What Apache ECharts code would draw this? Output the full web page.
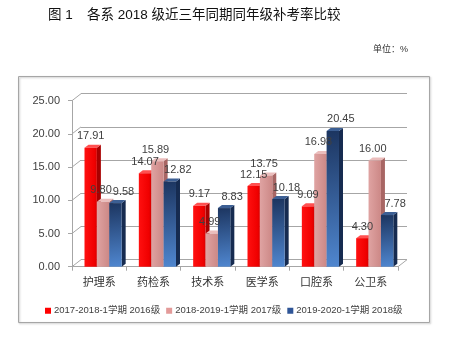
<!DOCTYPE html>
<html><head><meta charset="utf-8">
<script src="https://cdn.jsdelivr.net/npm/echarts@6/dist/echarts.min.js"></script>
<style>html,body{margin:0;padding:0;background:#fff}#c{width:456px;height:341px}</style>
</head><body><div id="c"></div>
<script>
const categories = ['护理系','药检系','技术系','医学系','口腔系','公卫系'];
const s2016 = [17.91,14.07,9.17,12.15,9.09,4.30];
const s2017 = [9.80,15.89,4.99,13.75,16.98,16.00];
const s2018 = [9.58,12.82,8.83,10.18,20.45,7.78];
const seriesNames = ['2017-2018-1学期 2016级','2018-2019-1学期 2017级','2019-2020-1学期 2018级'];
const yTicks = [0,5,10,15,20,25];

const FONT = '"Liberation Sans","Noto Sans CJK SC",sans-serif';
const DX = 9, DY = 7;        // depth of the floor/wall
const BDX = 4, BDY = 3;      // depth of a bar
const styles = [
  {front: {type:'linear',x:0,y:0,x2:1,y2:0,colorStops:[{offset:0,color:'#FF1010'},{offset:0.8,color:'#F00000'},{offset:1,color:'#D80000'}]}, side:'#A80000', top:'#FF5050', legend:'#FF0000'},
  {front: {type:'linear',x:0,y:0,x2:1,y2:0,colorStops:[{offset:0,color:'#DFA3A2'},{offset:1,color:'#CC8886'}]}, side:'#A86664', top:'#EBBDBC', legend:'#E39A99'},
  {front: {type:'linear',x:0,y:0,x2:0.6,y2:1,colorStops:[{offset:0,color:'#1C3560'},{offset:1,color:'#4F86CF'}]}, side:'#162B50', top:'#3C5F94', legend:'#2F5597'}
];

function geom(api, k){
  const idx = api.value(0), v = api.value(1);
  const base = api.coord([idx, 0]);
  const top = api.coord([idx, v]);
  const band = api.size([1, 0])[0];
  const bw = band * 0.228;
  const x0 = base[0] - band * 0.27 + k * bw;
  return {x0:x0, bw:bw, yt:top[1], yb:base[1], v:v};
}

function barRender(k){
  return function(params, api){
    const g = geom(api, k), st = styles[k];
    const x0 = g.x0, bw = g.bw, yt = g.yt, yb = g.yb;
    return {
      type: 'group',
      children: [
        {type:'polygon', shape:{points:[[x0+bw,yt],[x0+bw+BDX,yt-BDY],[x0+bw+BDX,yb-BDY],[x0+bw,yb]]}, style:{fill:st.side}},
        {type:'polygon', shape:{points:[[x0,yt],[x0+BDX,yt-BDY],[x0+bw+BDX,yt-BDY],[x0+bw,yt]]}, style:{fill:st.top}},
        {type:'rect', shape:{x:x0, y:yt, width:bw, height:yb-yt}, style:{fill:st.front}}
      ]
    };
  };
}

function labelRender(k){
  return function(params, api){
    const g = geom(api, k);
    const lblDx = k === 2 ? 8 : (k === 1 ? -2 : 0);
    return {type:'text', style:{x:g.x0+g.bw/2+lblDx, y:g.yt-6, text:g.v.toFixed(2), textAlign:'center', textVerticalAlign:'bottom', fill:'#404040', font:'11px '+FONT}};
  };
}

const chart = echarts.init(document.getElementById('c'), null, {renderer:'canvas'});
const gFront = {left:72, top:100.7, width:326, height:166};
const gBack = {left:72+DX, top:100.7-DY, width:326, height:166};

const dataSets = [s2016, s2017, s2018];
const barSeries = dataSets.map((arr, k) => ({
  type:'custom', name: seriesNames[k], xAxisIndex:0, yAxisIndex:0, z:2,
  itemStyle:{color: styles[k].legend},
  encode:{x:0, y:1},
  data: arr.map((v, i) => [i, v]),
  renderItem: barRender(k)
}));
const labelSeries = dataSets.map((arr, k) => ({
  type:'custom', name: seriesNames[k], xAxisIndex:0, yAxisIndex:0, z:10, silent:true,
  encode:{x:0, y:1},
  data: arr.map((v, i) => [i, v]),
  renderItem: labelRender(k)
}));

chart.setOption({
  animation:false,
  textStyle:{fontFamily:FONT},
  graphic:[
    {type:'rect', shape:{x:18.5, y:76.5, width:411, height:246}, style:{fill:'none', stroke:'#A6A6A6', lineWidth:1, shadowBlur:2, shadowColor:'rgba(0,0,0,0.25)', shadowOffsetX:1, shadowOffsetY:1}, z:-10},
    {type:'text', left:48, top:9, style:{text:'图 1', font:'13.5px '+FONT, fill:'#111'}},
    {type:'text', left:87, top:9, style:{text:'各系 2018 级近三年同期同年级补考率比较', font:'13.5px '+FONT, fill:'#111'}},
    {type:'text', left:373, top:45, style:{text:'单位：%', font:'9px '+FONT, fill:'#333'}}
  ],
  legend:{
    data: seriesNames, left:40, top:301, icon:'rect', itemWidth:6, itemHeight:6, itemGap:6,
    textStyle:{fontSize:9.5, color:'#404040', fontFamily:FONT, padding:[0,0,0,-2]}
  },
  grid:[
    Object.assign({containLabel:false}, gFront),
    Object.assign({containLabel:false}, gBack)
  ],
  xAxis:[
    {type:'category', gridIndex:0, data:categories, boundaryGap:true,
     axisLine:{lineStyle:{color:'#A6A6A6'}}, axisTick:{show:true, length:4, lineStyle:{color:'#A6A6A6'}},
     axisLabel:{color:'#333', fontSize:11, margin:11, fontFamily:FONT}, splitLine:{show:false}},
    {type:'category', gridIndex:1, data:categories, show:false}
  ],
  yAxis:[
    {type:'value', gridIndex:0, min:0, max:25, interval:5,
     axisLine:{show:true, lineStyle:{color:'#A6A6A6'}}, axisTick:{show:true, length:4, lineStyle:{color:'#A6A6A6'}},
     axisLabel:{color:'#404040', fontSize:11, margin:12, fontFamily:FONT, formatter:v => v.toFixed(2)},
     splitLine:{show:false}},
    {type:'value', gridIndex:1, min:0, max:25, interval:5,
     axisLine:{show:false}, axisTick:{show:false}, axisLabel:{show:false},
     splitLine:{show:true, lineStyle:{color:'#A6A6A6', width:1}}}
  ],
  series:[
    {type:'custom', name:'wall', xAxisIndex:0, yAxisIndex:0, silent:true, encode:{x:0, y:1},
     data: yTicks.map(v => [0, v]),
     renderItem: function(params, api){
       const cs = params.coordSys;
       const y = api.coord([0, api.value(1)])[1];
       const ch = [{type:'line', shape:{x1:cs.x, y1:y, x2:cs.x+DX, y2:y-DY}, style:{stroke:'#A6A6A6', lineWidth:1}}];
       if (api.value(1) === 0) {
         ch.push({type:'line', shape:{x1:cs.x+cs.width, y1:y, x2:cs.x+cs.width+DX, y2:y-DY}, style:{stroke:'#A6A6A6', lineWidth:1}});
       }
       return {type:'group', children:ch};
     }}
  ].concat(barSeries, labelSeries)
});
</script></body></html>
